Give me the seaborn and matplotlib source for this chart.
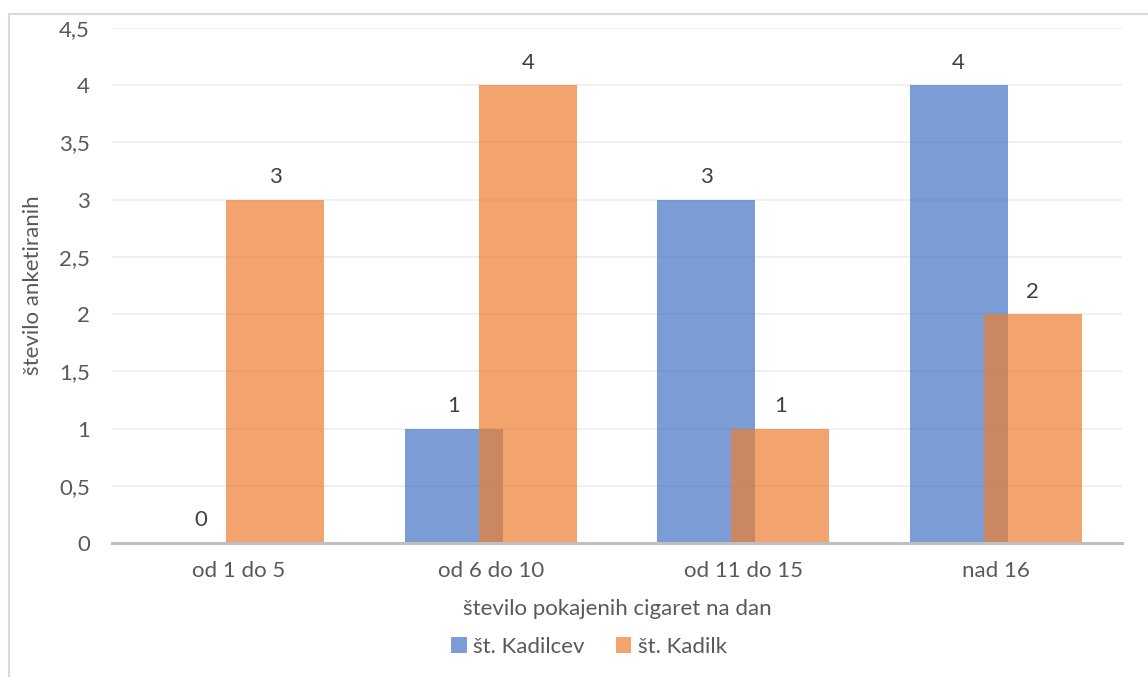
import matplotlib
matplotlib.use("Agg")
import matplotlib.pyplot as plt
from matplotlib.lines import Line2D
import seaborn as sns
import pandas as pd

# Data
categories = ["od 1 do 5", "od 6 do 10", "od 11 do 15", "nad 16"]
kadilci = [0, 1, 3, 4]
kadilke = [3, 4, 1, 2]
series_names = ["št. Kadilcev", "št. Kadilk"]
y_ticks = [0, 0.5, 1, 1.5, 2, 2.5, 3, 3.5, 4, 4.5]
x_title = "število pokajenih cigaret na dan"
y_title = "število anketiranih"

df = pd.DataFrame({
    "kategorija": categories * 2,
    "vrednost": kadilci + kadilke,
    "skupina": [series_names[0]] * len(categories) + [series_names[1]] * len(categories),
})

sns.set_theme(style="white")
plt.rcParams["font.family"] = ["Lato", "DejaVu Sans"]
text_gray = "#595959"
fs = 16

fig = plt.figure(figsize=(11.48, 6.77), dpi=100)
ax = fig.add_axes([112 / 1148, 1 - 543 / 677, 1010 / 1148, 515 / 677])

sns.barplot(
    data=df, x="kategorija", y="vrednost", hue="skupina",
    palette=["#4472C4", "#ED7D31"], width=0.776, alpha=0.7,
    saturation=1, ax=ax, linewidth=0,
)

# pull the two series together so the bars overlap
shift = 0.194 - 0.147
for i, cont in enumerate(ax.containers):
    d = shift if i == 0 else -shift
    for bar in cont:
        bar.set_x(bar.get_x() + d)
    ax.bar_label(cont, fmt="%g", padding=9, fontsize=fs, color="#404040")

ax.set_ylim(0, 4.5)
ax.set_xlim(-0.5, len(categories) - 0.5)
ax.set_yticks(y_ticks)
ax.set_yticklabels([f"{v:g}".replace(".", ",") for v in y_ticks])
ax.tick_params(axis="y", length=0, pad=16, labelsize=fs, labelcolor=text_gray)
ax.tick_params(axis="x", length=0, pad=13, labelsize=fs, labelcolor=text_gray)

ax.yaxis.grid(True, color="#EDEDED", linewidth=1.2)
ax.set_axisbelow(True)
for s in ["top", "right", "left"]:
    ax.spines[s].set_visible(False)
ax.spines["bottom"].set_color("#BFBFBF")
ax.spines["bottom"].set_linewidth(2.2)

ax.set_xlabel(x_title, fontsize=fs, color=text_gray)
ax.xaxis.set_label_coords(0.5, (1 - 609 / 677 - (1 - 543 / 677)) / (515 / 677))
ax.xaxis.label.set_va("center")
ax.set_ylabel(y_title, fontsize=fs, color=text_gray)
ax.yaxis.set_label_coords((33 - 112) / 1010, 0.5)
ax.yaxis.label.set_va("center")

sns.move_legend(
    ax, "center", bbox_to_anchor=(589 / 1148, 1 - 647 / 677),
    bbox_transform=fig.transFigure, ncol=2, frameon=False, title=None,
    fontsize=fs, handlelength=0.7, handleheight=0.7, handletextpad=0.3,
    columnspacing=1.4, labelcolor=text_gray,
)

# chart frame (left and top edges)
frame_kw = dict(transform=fig.transFigure, color="#D9D9D9", linewidth=1.5)
fig.add_artist(Line2D([8.5 / 1148, 8.5 / 1148], [0, 1 - 13.5 / 677], **frame_kw))
fig.add_artist(Line2D([8.5 / 1148, 1], [1 - 13.5 / 677, 1 - 13.5 / 677], **frame_kw))

fig.savefig("out.png", dpi=100, facecolor="white")
